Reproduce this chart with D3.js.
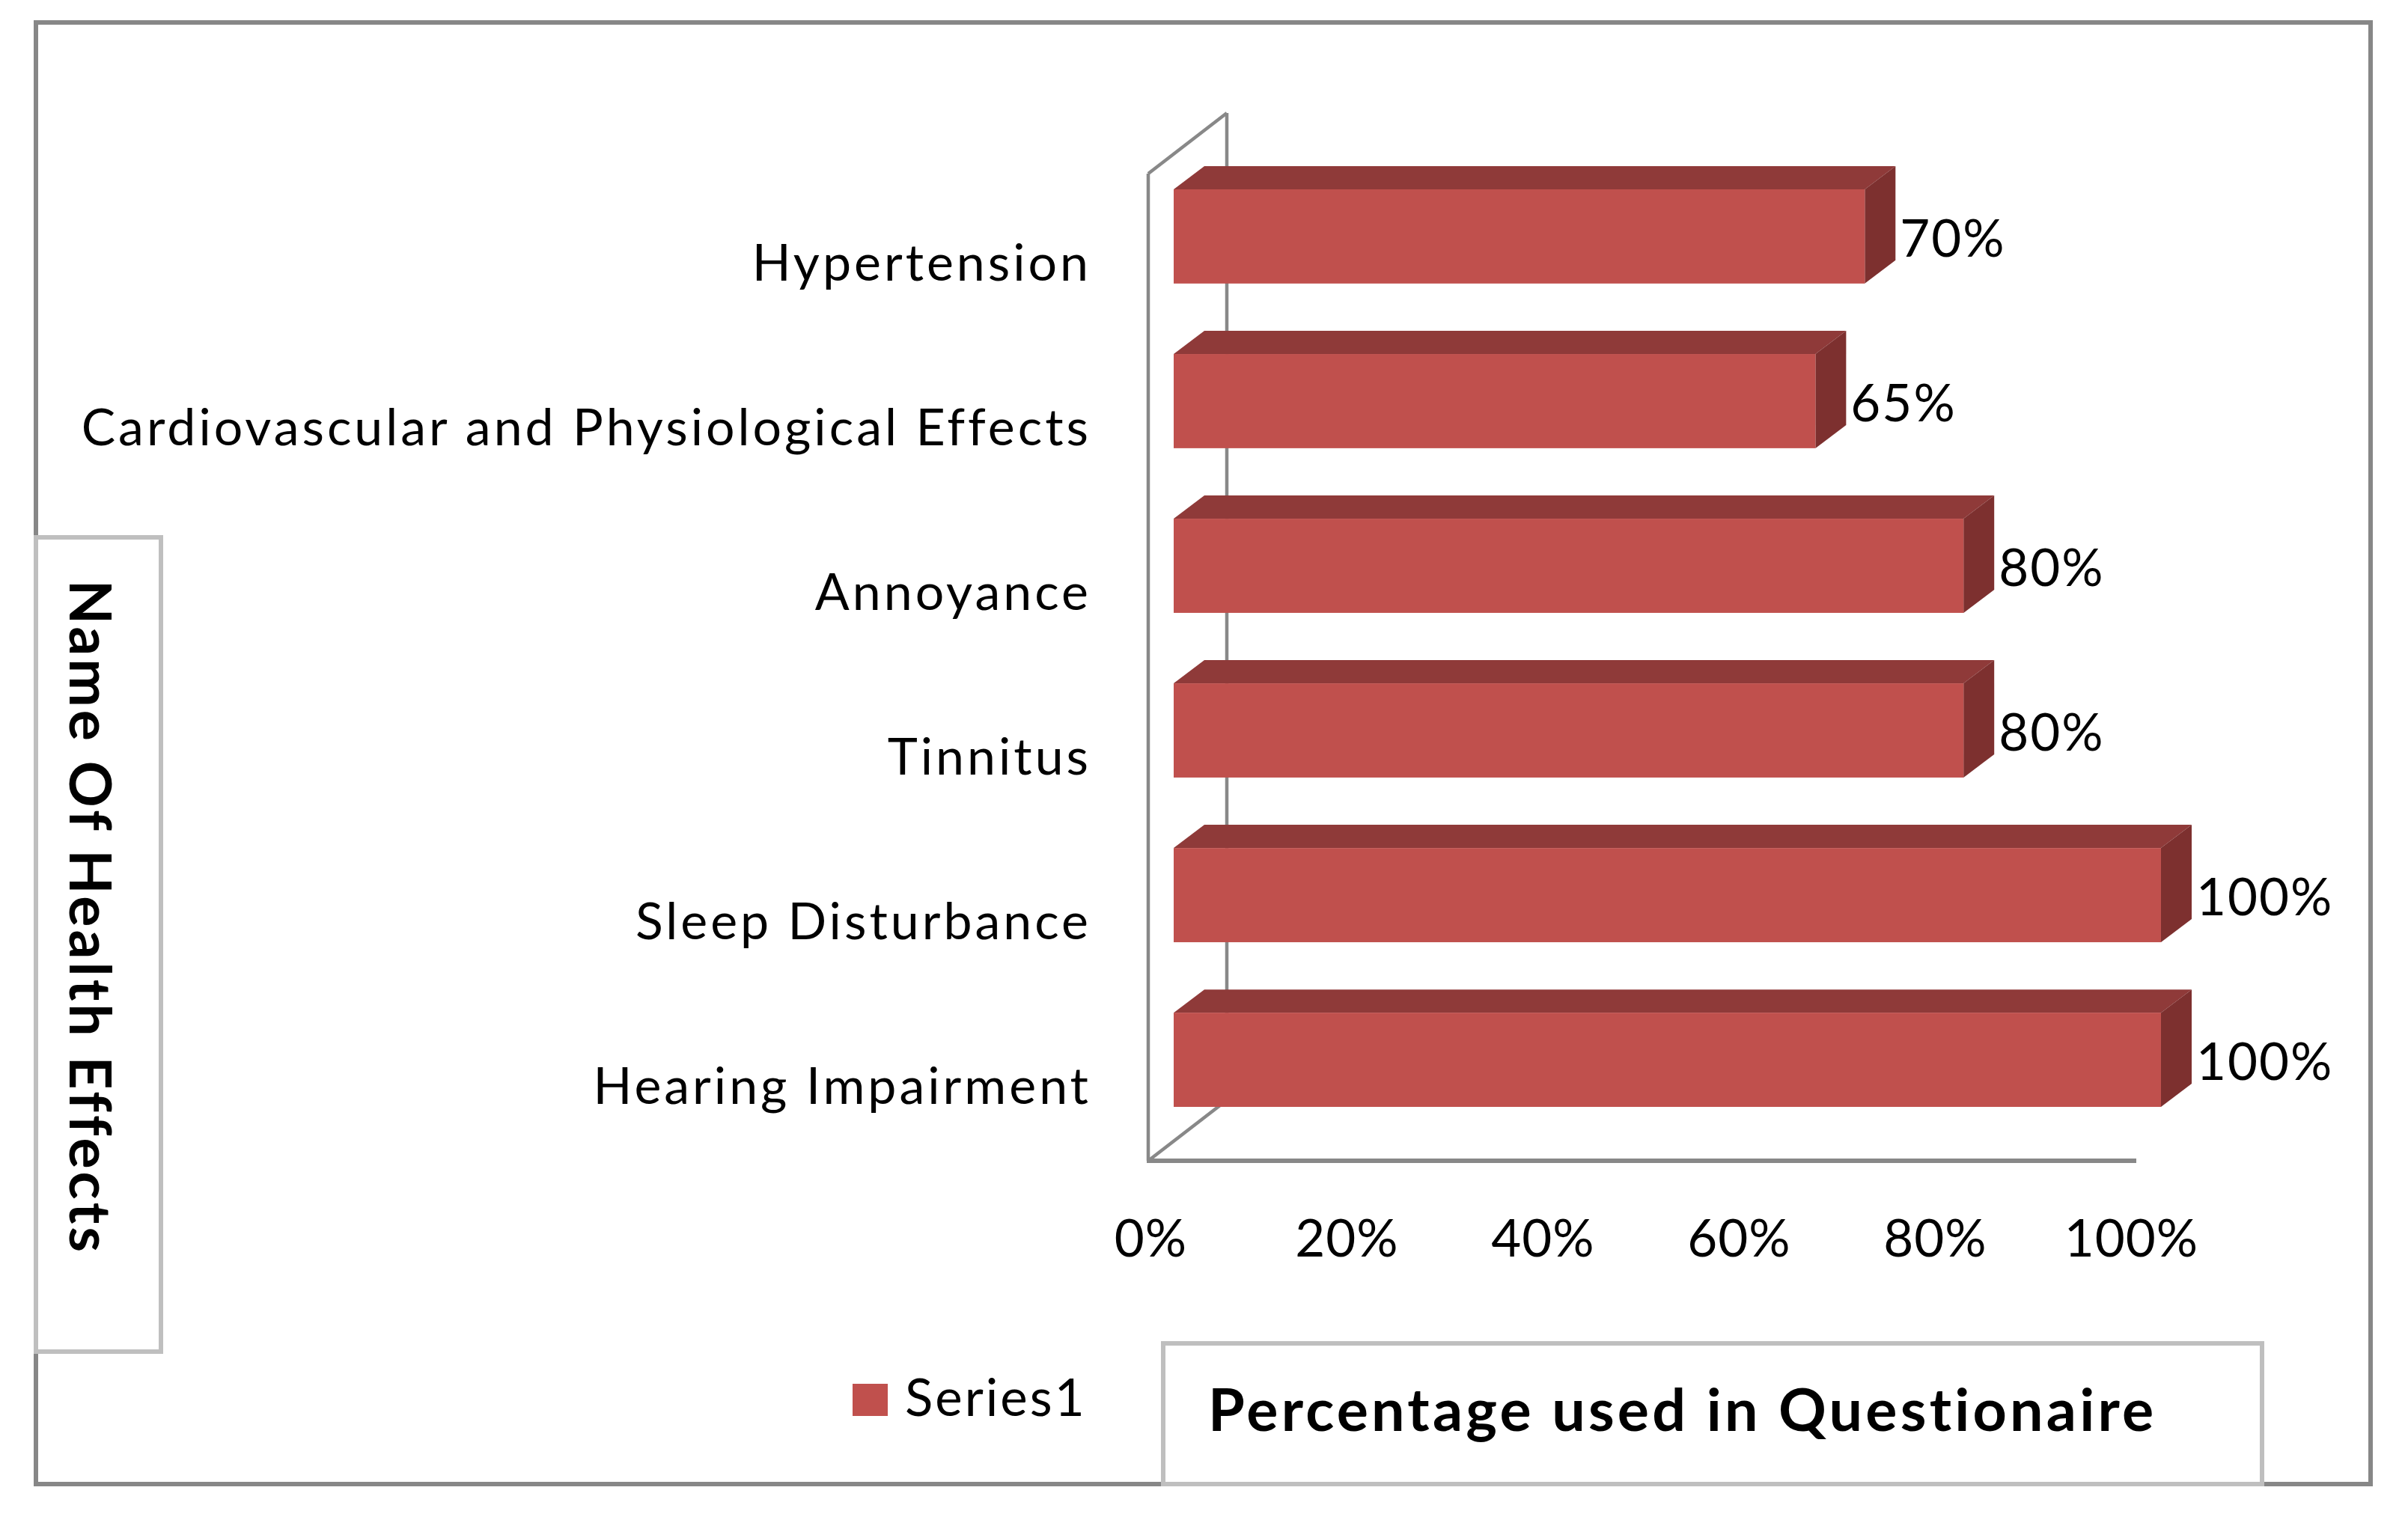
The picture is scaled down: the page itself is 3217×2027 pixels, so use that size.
<!DOCTYPE html>
<html>
<head>
<meta charset="utf-8">
<script src="https://cdn.jsdelivr.net/npm/d3@7"></script>
<style>
  html, body { margin: 0; padding: 0; background: #ffffff; }
  svg { display: block; }
</style>
</head>
<body>
<svg id="chart" width="3217" height="2027"></svg>
<script>
// ---- data ----
const categories = [
  "Hypertension",
  "Cardiovascular and Physiological Effects",
  "Annoyance",
  "Tinnitus",
  "Sleep Disturbance",
  "Hearing Impairment"
];
const values = [0.70, 0.65, 0.80, 0.80, 1.00, 1.00];
const tickValues = [0, 0.2, 0.4, 0.6, 0.8, 1.0];
const seriesName = "Series1";
const xTitle = "Percentage used in Questionaire";
const yTitle = "Name Of Health Effects";

// ---- layout ----
const svg = d3.select("#chart");
const FONT = "Lato, 'Open Sans', sans-serif";
const fmt = d3.format(".0%");

const colFront = "#C0504D", colTop = "#8F3A39", colSide = "#7D302F";
const wallCol = "#888888";

// scales: axis at front plane, bars at mid-depth
const x = d3.scaleLinear().domain([0, 1]).range([1537, 2847]);
const xBar = d3.scaleLinear().domain([0, 1]).range([1568, 2887]);
const y = d3.scaleBand().domain(categories).range([253, 1479]).paddingInner(0.428).paddingOuter(0);
const depthX = 41, depthY = 31;

// outer border
svg.append("rect").attr("x", 48).attr("y", 30).attr("width", 3167 - 48).attr("height", 1983 - 30)
  .attr("fill", "#ffffff").attr("stroke", "#878787").attr("stroke-width", 6);

// 3D wall (category side)
const wallFrontX = 1534, wallBackX = wallFrontX + 105;
const wallTopFront = 232, wallBotFront = 1551;
const wd = 81;
const wall = svg.append("g").attr("fill", "none").attr("stroke", wallCol).attr("stroke-width", 4.5);
wall.append("line").attr("x1", wallFrontX).attr("y1", wallTopFront).attr("x2", wallFrontX).attr("y2", wallBotFront);
wall.append("line").attr("x1", wallBackX).attr("y1", wallTopFront - wd).attr("x2", wallBackX).attr("y2", wallBotFront - wd);
wall.append("line").attr("x1", wallFrontX).attr("y1", wallTopFront).attr("x2", wallBackX).attr("y2", wallTopFront - wd);
wall.append("line").attr("x1", wallFrontX).attr("y1", wallBotFront).attr("x2", wallBackX).attr("y2", wallBotFront - wd);
// floor axis line
svg.append("line").attr("x1", wallFrontX - 2).attr("y1", wallBotFront).attr("x2", 2854).attr("y2", wallBotFront)
  .attr("stroke", wallCol).attr("stroke-width", 6);

// bars
const data = categories.map((c, i) => ({ c, v: values[i] }));
const bars = svg.append("g").selectAll("g.bar").data(data).join("g").attr("class", "bar");
const x0 = xBar(0);
bars.append("path").attr("fill", colTop).attr("d", d => {
  const t = y(d.c), r = xBar(d.v);
  return `M${x0},${t} L${x0 + depthX},${t - depthY} L${r + depthX},${t - depthY} L${r},${t} Z`;
});
bars.append("path").attr("fill", colSide).attr("d", d => {
  const t = y(d.c), b = t + y.bandwidth(), r = xBar(d.v);
  return `M${r},${t} L${r + depthX},${t - depthY} L${r + depthX},${b - depthY} L${r},${b} Z`;
});
bars.append("rect").attr("fill", colFront)
  .attr("x", x0).attr("y", d => y(d.c))
  .attr("width", d => xBar(d.v) - x0).attr("height", y.bandwidth());

// data labels
svg.append("g").selectAll("text").data(data).join("text")
  .attr("x", d => xBar(d.v) + depthX + 6)
  .attr("y", d => y(d.c) + y.bandwidth() / 2 + 27)
  .attr("font-family", FONT).attr("font-size", 69).attr("letter-spacing", 2)
  .attr("fill", "#000").text(d => fmt(d.v));

// category axis (labels)
const yAxis = d3.axisLeft(y).tickSize(0).tickPadding(76);
const gy = svg.append("g").attr("transform", `translate(${wallFrontX},37)`).call(yAxis);
gy.select(".domain").remove();
gy.selectAll("text").attr("font-family", FONT).attr("font-size", 68).attr("letter-spacing", 4).attr("fill", "#000");

// value axis (ticks)
const xAxis = d3.axisBottom(x).tickValues(tickValues).tickFormat(fmt).tickSize(0).tickPadding(79);
const gx = svg.append("g").attr("transform", `translate(0,${wallBotFront})`).call(xAxis);
gx.select(".domain").remove();
gx.selectAll("text").attr("font-family", FONT).attr("font-size", 69).attr("letter-spacing", 1).attr("fill", "#000");

// y title box
svg.append("rect").attr("x", 48).attr("y", 718).attr("width", 215 - 48).attr("height", 1806 - 718)
  .attr("fill", "#ffffff").attr("stroke", "#bfbfbf").attr("stroke-width", 6);
svg.append("text").attr("transform", "translate(93,1226) rotate(90)")
  .attr("text-anchor", "middle").attr("font-family", FONT).attr("font-weight", "bold")
  .attr("font-size", 77).attr("letter-spacing", 4).attr("fill", "#000").text(yTitle);

// x title box
svg.append("rect").attr("x", 1554).attr("y", 1795).attr("width", 3022 - 1554).attr("height", 1983 - 1795)
  .attr("fill", "#ffffff").attr("stroke", "#bfbfbf").attr("stroke-width", 6);
svg.append("text").attr("x", 1614).attr("y", 1912)
  .attr("font-family", FONT).attr("font-weight", "bold")
  .attr("font-size", 79).attr("letter-spacing", 4.2).attr("fill", "#000").text(xTitle);

// legend
const leg = svg.append("g");
leg.append("rect").attr("x", 1139).attr("y", 1849).attr("width", 47).attr("height", 43).attr("fill", colFront);
leg.append("text").attr("x", 1209).attr("y", 1892).attr("font-family", FONT).attr("font-size", 69)
  .attr("letter-spacing", 3).attr("fill", "#000").text(seriesName);
</script>
</body>
</html>
